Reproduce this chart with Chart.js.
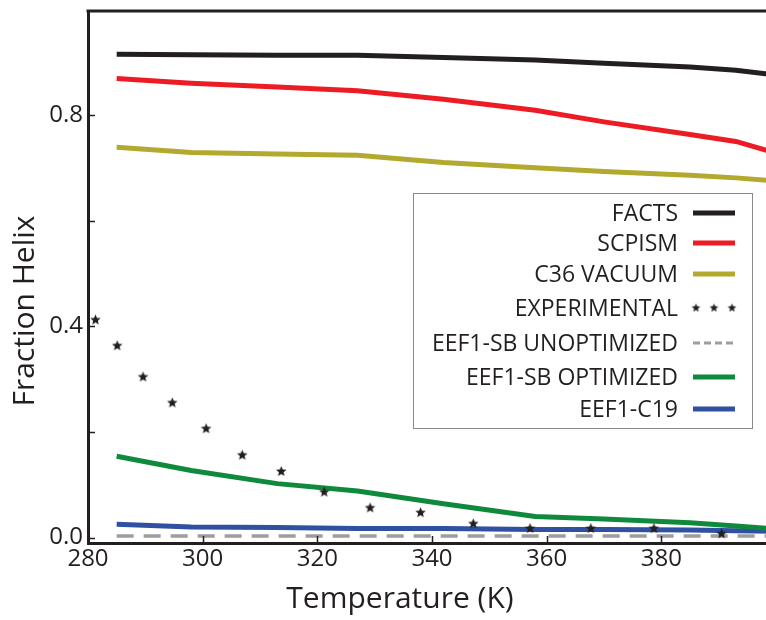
<!DOCTYPE html>
<html><head><meta charset="utf-8">
<script src="https://cdn.jsdelivr.net/npm/chart.js@4/dist/chart.umd.min.js"></script>
<style>
html,body{margin:0;padding:0;overflow:hidden;background:#fff;width:766px;height:620px}
#wrap{position:relative;width:790px;height:620px}
</style></head><body>
<div id="wrap"><canvas id="c"></canvas></div>
<script>
// ---- data ----
const temperatures = [285, 298, 313, 327, 342, 358, 370, 385, 393, 400];
const facts        = [0.915, 0.914, 0.913, 0.913, 0.909, 0.904, 0.898, 0.891, 0.885, 0.876];
const scpism       = [0.869, 0.860, 0.853, 0.846, 0.830, 0.809, 0.787, 0.763, 0.750, 0.728];
const c36Vacuum    = [0.739, 0.729, 0.726, 0.724, 0.710, 0.700, 0.693, 0.686, 0.681, 0.675];
const eef1sbUnopt  = [0.003, 0.003, 0.003, 0.003, 0.003, 0.003, 0.003, 0.003, 0.003, 0.003];
const eef1sbOpt    = [0.154, 0.127, 0.102, 0.088, 0.064, 0.040, 0.035, 0.028, 0.022, 0.016];
const eef1c19      = [0.025, 0.020, 0.019, 0.017, 0.017, 0.015, 0.015, 0.014, 0.013, 0.012];
const expTemperatures = [281.3, 285.1, 289.6, 294.7, 300.6, 306.9, 313.7, 321.2, 329.2, 338.0, 347.2, 357.1, 367.7, 378.7, 390.5];
const experimental    = [0.412, 0.363, 0.304, 0.255, 0.206, 0.156, 0.125, 0.086, 0.056, 0.047, 0.026, 0.017, 0.017, 0.017, 0.007];
const xTickValues = [280, 300, 320, 340, 360, 380, 400];
const xTickLabels = ['280', '300', '320', '340', '360', '380', ''];
const yTickValues = [0, 0.2, 0.4, 0.6, 0.8];
const yTickLabels = ['0.0', '', '0.4', '', '0.8'];
const xTitle = 'Temperature (K)';
const yTitle = 'Fraction Helix';

// ---- styling ----
const INK = '#231f20';
const FONT = "'Open Sans', sans-serif";
Chart.defaults.font.family = FONT;
Chart.defaults.color = INK;

function makeStar(r) {
  const s = Math.ceil(r * 2 + 2);
  const c = document.createElement('canvas');
  c.width = s; c.height = s;
  const g = c.getContext('2d');
  g.fillStyle = INK;
  g.beginPath();
  for (let i = 0; i < 10; i++) {
    const rad = i % 2 ? r * 0.45 : r;
    const a = -Math.PI / 2 + i * Math.PI / 5;
    g.lineTo(s / 2 + rad * Math.cos(a), s / 2 + rad * Math.sin(a));
  }
  g.closePath(); g.fill();
  return c;
}
const starBig = makeStar(5.5);
const starSmall = makeStar(4.5);

const pts = (xs, ys) => xs.map((x, i) => ({x: x, y: ys[i]}));
const lineDs = (label, data, color, extra) => Object.assign({
  label: label, data: pts(temperatures, data), borderColor: color, backgroundColor: color,
  borderWidth: 5, pointRadius: 0, fill: false, tension: 0, legendKind: 'line'
}, extra || {});

const datasets = [
  lineDs('FACTS', facts, '#231f20'),
  lineDs('SCPISM', scpism, '#ed1c24'),
  lineDs('C36 VACUUM', c36Vacuum, '#b3a92e'),
  {label: 'EXPERIMENTAL', data: pts(expTemperatures, experimental), showLine: false,
   pointStyle: starBig, pointRadius: 6, borderColor: INK, backgroundColor: INK, legendKind: 'stars', order: -1},
  lineDs('EEF1-SB UNOPTIMIZED', eef1sbUnopt, '#9d9d9d', {borderWidth: 3.5, borderDash: [17, 10], legendKind: 'dash'}),
  lineDs('EEF1-SB OPTIMIZED', eef1sbOpt, '#0f8a3d'),
  lineDs('EEF1-C19', eef1c19, '#3050a2')
];

const framePlugin = {
  id: 'frame',
  afterDraw(chart) {
    const {ctx, chartArea: a, scales} = chart;
    ctx.save();
    ctx.strokeStyle = INK;
    // top border
    ctx.lineWidth = 3;
    ctx.beginPath(); ctx.moveTo(a.left - 1.5, a.top); ctx.lineTo(a.right + 2, a.top); ctx.stroke();
    // inward ticks
    ctx.lineWidth = 1.5;
    xTickValues.forEach(v => {
      const px = Math.round(scales.x.getPixelForValue(v)) + 0.5;
      ctx.beginPath(); ctx.moveTo(px, a.bottom); ctx.lineTo(px, a.bottom - 7); ctx.stroke();
    });
    yTickValues.forEach(v => {
      const py = Math.round(scales.y.getPixelForValue(v)) + 0.5;
      ctx.beginPath(); ctx.moveTo(a.left, py); ctx.lineTo(a.left + 7, py); ctx.stroke();
    });
    // axis titles
    ctx.fillStyle = INK;
    ctx.font = "30px " + FONT;
    ctx.textAlign = 'center'; ctx.textBaseline = 'alphabetic';
    ctx.fillText(xTitle, 400, 608);
    ctx.save();
    ctx.translate(34, 311); ctx.rotate(-Math.PI / 2);
    ctx.fillText(yTitle, 0, 0);
    ctx.restore();
    // legend
    const box = {x: 413.5, y: 193.5, w: 339, h: 235};
    ctx.fillStyle = '#fff';
    ctx.fillRect(box.x, box.y, box.w, box.h);
    ctx.strokeStyle = '#8a8a8a'; ctx.lineWidth = 1;
    ctx.strokeRect(box.x, box.y, box.w, box.h);
    const rowY = [213, 243, 274, 308, 343, 377, 409];
    ctx.font = "23px " + FONT;
    ctx.textAlign = 'right'; ctx.textBaseline = 'middle';
    chart.data.datasets.forEach((ds, i) => {
      const y = rowY[i];
      ctx.fillStyle = INK;
      ctx.fillText(ds.label, 678, y + 1);
      if (ds.legendKind === 'stars') {
        [696, 714, 732].forEach(sx => ctx.drawImage(starSmall, sx - starSmall.width / 2, y - starSmall.height / 2));
      } else {
        ctx.strokeStyle = ds.borderColor;
        ctx.lineWidth = ds.legendKind === 'dash' ? 3 : 5;
        ctx.setLineDash(ds.legendKind === 'dash' ? [7, 4] : []);
        ctx.beginPath(); ctx.moveTo(693, y); ctx.lineTo(735, y); ctx.stroke();
        ctx.setLineDash([]);
      }
    });
    ctx.restore();
  }
};

new Chart(document.getElementById('c'), {
  type: 'line',
  data: {datasets: datasets},
  plugins: [framePlugin],
  options: {
    responsive: true, maintainAspectRatio: false, animation: false,
    layout: {padding: {top: 11, right: 14, left: 0, bottom: 0}},
    plugins: {legend: {display: false}, tooltip: {enabled: false}},
    scales: {
      x: {
        type: 'linear', min: 280, max: 400,
        afterBuildTicks: s => { s.ticks = xTickValues.map(v => ({value: v})); },
        afterFit: s => { s.height = 77; s.paddingLeft = 0; s.paddingRight = 0; },
        grid: {display: false, drawTicks: false},
        border: {display: true, width: 3, color: INK},
        ticks: {padding: 2, autoSkip: false, maxRotation: 0, font: {size: 24}, color: INK,
                callback: (v, i) => xTickLabels[i]}
      },
      y: {
        type: 'linear', min: -0.0104, max: 0.997,
        afterBuildTicks: s => { s.ticks = yTickValues.map(v => ({value: v})); },
        afterFit: s => { s.width = 88; s.paddingTop = 0; s.paddingBottom = 0; },
        grid: {display: false, drawTicks: false},
        border: {display: true, width: 3, color: INK},
        ticks: {padding: 5, autoSkip: false, font: {size: 24}, color: INK,
                callback: (v, i) => yTickLabels[i]}
      }
    }
  }
});
</script>
</body></html>
